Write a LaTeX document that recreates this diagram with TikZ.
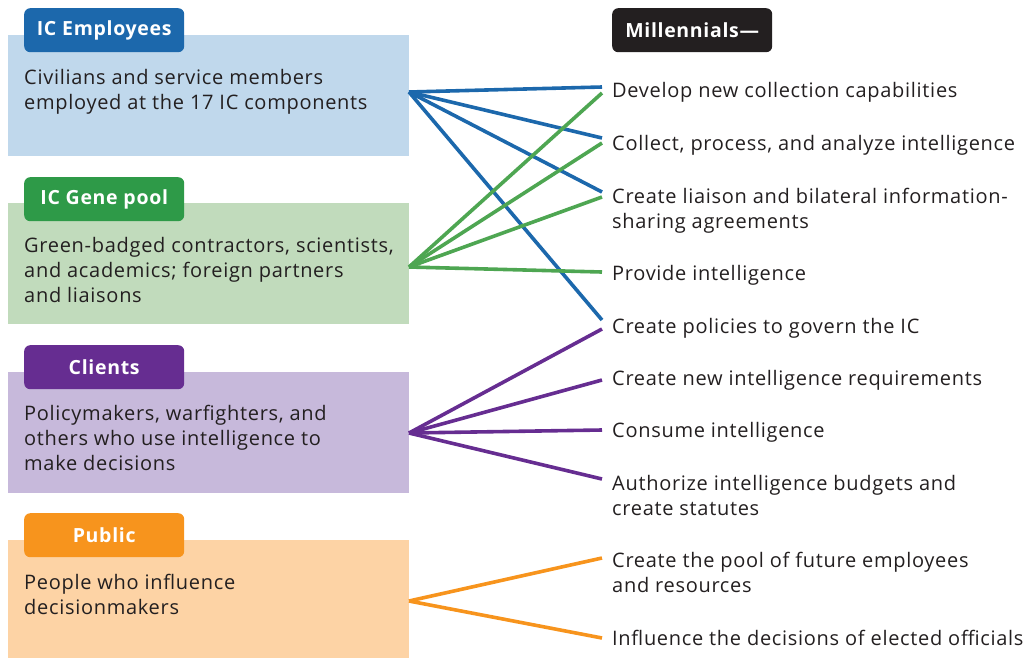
\documentclass[tikz,border=0pt]{standalone}
\usepackage{fontspec}
\setmainfont{Open Sans}[LetterSpace=3.5]
\definecolor{empdark}{HTML}{1C68AC}
\definecolor{emplight}{HTML}{C0D8EC}
\definecolor{gendark}{HTML}{2E9A48}
\definecolor{genline}{HTML}{4EA652}
\definecolor{genlight}{HTML}{C1DBBC}
\definecolor{clidark}{HTML}{662D91}
\definecolor{clilight}{HTML}{C7B9DB}
\definecolor{pubdark}{HTML}{F7941D}
\definecolor{publight}{HTML}{FDD3A5}
\definecolor{inkgray}{HTML}{231F20}

\begin{document}
\begin{tikzpicture}[x=1pt,y=-1pt,
  groupbox/.style={anchor=north west, minimum width=401pt, minimum height=121pt, inner sep=0pt},
  grouptab/.style={anchor=north west, rounded corners=6pt, minimum width=160pt, minimum height=44pt,
    inner sep=0pt, text=white, font=\bfseries\fontsize{19.5}{22}\selectfont},
  grouptext/.style={anchor=base west, inner sep=0pt, align=left, text=inkgray,
    font=\fontsize{20}{25}\selectfont},
  item/.style={anchor=base west, inner sep=0pt, align=left, text=inkgray,
    font=\fontsize{20}{25}\selectfont},
  link/.style={line width=3.6pt}]
  \useasboundingbox (0,0) rectangle (1031,657);

  % left side: the four groups (text nodes sit on their last baseline)
  \node[groupbox, fill=emplight] (emp) at (8,35) {};
  \node[grouptab, fill=empdark] (emptab) at (24,8) {IC Employees};
  \node[grouptext] (emptext) at (24,109) {Civilians and service members\\employed at the 17 IC components};

  \node[groupbox, fill=genlight] (gen) at (8,203) {};
  \node[grouptab, fill=gendark] (gentab) at (24,177) {IC Gene pool};
  \node[grouptext] (gentext) at (24,302) {Green-badged contractors, scientists,\\and academics; foreign partners\\and liaisons};

  \node[groupbox, fill=clilight] (cli) at (8,372) {};
  \node[grouptab, fill=clidark] (clitab) at (24,345) {Clients};
  \node[grouptext] (clitext) at (24,470) {Policymakers, warfighters, and\\others who use intelligence to\\make decisions};

  \node[groupbox, fill=publight] (pub) at (8,540) {};
  \node[grouptab, fill=pubdark] (pubtab) at (24,513) {Public};
  \node[grouptext] (pubtext) at (24,614) {People who influence\\decisionmakers};

  % right side: what millennials do
  \node[grouptab, fill=inkgray] (mil) at (612,8) {Millennials---};
  \node[item] (dev) at (612,97) {Develop new collection capabilities};
  \node[item] (col) at (612,150) {Collect, process, and analyze intelligence};
  \node[item] (lia) at (612,228) {Create liaison and bilateral information-\\sharing agreements};
  \node[item] (pro) at (612,280) {Provide intelligence};
  \node[item] (pol) at (612,333) {Create policies to govern the IC};
  \node[item] (req) at (612,385) {Create new intelligence requirements};
  \node[item] (con) at (612,437) {Consume intelligence};
  \node[item] (aut) at (612,515) {Authorize intelligence budgets and\\create statutes};
  \node[item] (poo) at (612,592) {Create the pool of future employees\\and resources};
  \node[item] (inf) at (612,645) {Influence the decisions of elected officials};

  % fan points
  \coordinate (emp-o) at (409,92);
  \coordinate (gen-o) at (409,267);
  \coordinate (cli-o) at (409,433);
  \coordinate (pub-o) at (409,601);

  \draw[link, empdark] (emp-o) -- ([shift={(-10,-10)}]dev.base west);
  \draw[link, empdark] (emp-o) -- ([shift={(-10,-12)}]col.base west);
  \draw[link, empdark] (emp-o) -- ([shift={(-10,-36)}]lia.base west);
  \draw[link, empdark] (emp-o) -- ([shift={(-10,-13)}]pol.base west);

  \draw[link, genline] (gen-o) -- ([shift={(-10,-4)}]dev.base west);
  \draw[link, genline] (gen-o) -- ([shift={(-10,-7)}]col.base west);
  \draw[link, genline] (gen-o) -- ([shift={(-10,-31)}]lia.base west);
  \draw[link, genline] (gen-o) -- ([shift={(-10,-8)}]pro.base west);

  \draw[link, clidark] (cli-o) -- ([shift={(-10,-4)}]pol.base west);
  \draw[link, clidark] (cli-o) -- ([shift={(-10,-5)}]req.base west);
  \draw[link, clidark] (cli-o) -- ([shift={(-10,-7)}]con.base west);
  \draw[link, clidark] (cli-o) -- ([shift={(-10,-36)}]aut.base west);

  \draw[link, pubdark] (pub-o) -- ([shift={(-10,-34)}]poo.base west);
  \draw[link, pubdark] (pub-o) -- ([shift={(-10,-7)}]inf.base west);
\end{tikzpicture}
\end{document}
